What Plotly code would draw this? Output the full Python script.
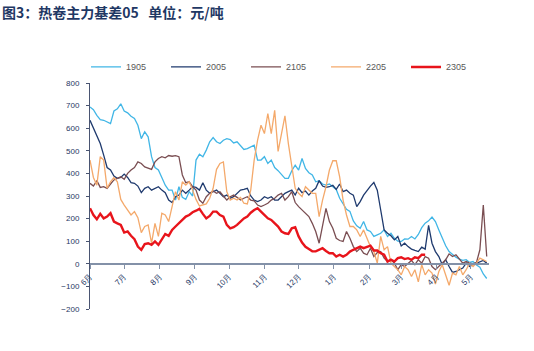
import pandas as pd
import plotly.graph_objects as go

# Basis values (元/吨), sampled every 3 calendar days starting June 1 of each contract year
start_date = "2018-06-01"
step = "3D"

s1905 = [694, 682, 657, 638, 635, 628, 620, 676, 686, 708, 676, 668, 653, 643, 613, 554, 584, 562, 474, 426,
         415, 382, 348, 326, 326, 282, 341, 294, 285, 319, 300, 459, 485, 474, 503, 540, 559, 540, 532, 547,
         554, 550, 535, 540, 521, 506, 510, 518, 525, 459, 459, 474, 444, 459, 426, 412, 397, 378, 378, 412,
         436, 415, 466, 422, 403, 393, 363, 368, 353, 348, 353, 341, 329, 290, 265, 241, 232, 190, 168, 157,
         187, 150, 143, 121, 128, 135, 150, 121, 135, 113, 100, 99, 110, 109, 121, 110, 130, 160, 180, 190,
         207, 187, 150, 113, 80, 54, 40, 29, 21, 15, 18, 6, 10, -5, -15, -45, -65]

s2005 = [635, 603, 569, 532, 481, 426, 415, 388, 378, 382, 397, 382, 359, 356, 344, 315, 334, 341, 326, 334,
         341, 326, 315, 282, 271, 297, 304, 326, 312, 326, 341, 338, 326, 359, 326, 312, 319, 326, 312, 297,
         304, 290, 297, 312, 326, 329, 334, 300, 282, 275, 282, 297, 290, 297, 282, 282, 297, 312, 319, 326,
         304, 334, 315, 322, 304, 322, 334, 368, 344, 338, 341, 347, 329, 353, 319, 326, 312, 304, 253, 275,
         304, 326, 344, 360, 326, 238, 150, 135, 124, 106, 121, 79, 91, 76, 65, 59, 54, 74, 65, 170,
         91, 54, 32, -4, 18, -12, -38, -34, -26, -19, 3, -12, -4, 3, 10, 15, 3]

s2105 = [356, 344, 368, 338, 341, 334, 353, 371, 378, 385, 374, 400, 415, 426, 451, 444, 429, 422, 418, 451,
         466, 474, 469, 479, 476, 479, 474, 393, 359, 363, 341, 326, 282, 268, 297, 312, 322, 312, 319, 300,
         282, 297, 304, 294, 282, 290, 297, 282, 279, 260, 253, 260, 268, 282, 290, 304, 312, 282, 297, 319,
         271, 253, 238, 224, 209, 179, 143, 91, 165, 245, 187, 157, 113, 103, 99, 143, 113, 76, 54, 69,
         47, 40, 69, 32, 50, 54, 25, 10, 18, 3, -26, -4, -12, 3, 15, -4, 18, 3, 32, 25,
         -12, -26, -12, 3, 18, 44, 32, 40, 21, 3, 10, 3, 0, 6, 62, 260, 32]

s2205 = [459, 382, 348, 474, 459, 334, 363, 382, 363, 285, 260, 238, 216, 231, 204, 138, 165, 172, 91, 179,
         121, 224, 216, 187, 260, 319, 282, 363, 348, 363, 326, 285, 256, 260, 265, 290, 334, 418, 444, 451,
         319, 282, 290, 282, 294, 268, 265, 326, 459, 547, 613, 576, 665, 576, 679, 497, 576, 655, 532, 429,
         334, 312, 297, 341, 326, 312, 312, 209, 282, 341, 415, 456, 456, 385, 282, 216, 165, 165, 150, 121,
         150, 113, 76, 54, 3, 121, 62, 76, 3, -12, -26, -49, -12, -26, -56, -26, -80, -4, -49, -26,
         -41, -90, -34, -4, -49, -95, -41, -49, -12, -49, -26, 3, -12, 3, 25, 18, 10]

s2305 = [246, 216, 197, 221, 201, 209, 224, 187, 179, 172, 138, 143, 124, 109, 76, 62, 87, 91, 84, 99,
         84, 106, 132, 124, 150, 165, 179, 191, 209, 216, 228, 235, 243, 221, 201, 212, 231, 231, 216, 209,
         172, 157, 162, 172, 187, 201, 209, 226, 238, 246, 231, 216, 201, 194, 179, 165, 143, 135, 132, 157,
         162, 121, 94, 75, 65, 55, 55, 62, 69, 57, 47, 47, 32, 40, 32, 40, 54, 62, 69, 76,
         69, 75, 80, 59, 59, 47, 40, 10, 18, 10, 25, 29, 21, 25, 18, 29, 25, 40, 40]

series_names = ["1905", "2005", "2105", "2205", "2305"]
series_values = [s1905, s2005, s2105, s2205, s2305]
series_colors = ["#41B6E6", "#1F3A6E", "#7A4E52", "#F4A96B", "#E8141B"]
series_widths = [1.3, 1.3, 1.3, 1.3, 2.4]

month_ticks = pd.date_range("2018-06-01", "2019-05-01", freq="MS")
month_labels = ["6月", "7月", "8月", "9月", "10月", "11月", "12月", "1月", "2月", "3月", "4月", "5月"]

y_ticks = [-200, -100, 0, 100, 200, 300, 400, 500, 600, 700, 800]

fig = go.Figure()
for name, vals, col, w in zip(series_names, series_values, series_colors, series_widths):
    x = pd.date_range(start_date, periods=len(vals), freq=step)
    fig.add_trace(go.Scatter(x=x, y=vals, mode="lines", name=name,
                             line=dict(color=col, width=w)))

fig.update_layout(
    width=534, height=351,
    margin=dict(l=90, r=45, t=83, b=42),
    paper_bgcolor="white", plot_bgcolor="white",
    font=dict(family="Liberation Sans, Arial, sans-serif"),
    showlegend=True,
    legend=dict(orientation="h", x=-0.01, xanchor="left", y=1.071, yanchor="middle",
                font=dict(size=9, color="#595959"),
                entrywidth=35, entrywidthmode="pixels", itemwidth=30,
                bgcolor="rgba(0,0,0,0)"),
    annotations=[dict(text="<b>图3：热卷主力基差05   单位：元/吨</b>", xref="paper", yref="paper",
                      x=-90/399, y=1 + (83-12)/226, xanchor="left", yanchor="middle",
                      showarrow=False,
                      font=dict(size=14, color="#1F3864",
                                family="Noto Sans CJK SC, sans-serif"))],
)

fig.update_xaxes(
    type="date", range=["2018-06-01", "2019-05-17"],
    anchor="free", position=0.2,
    showline=True, linecolor="#8391A8", linewidth=1.5,
    ticks="outside", ticklen=4, tickcolor="#8391A8",
    tickvals=month_ticks, ticktext=month_labels, tickangle=-45,
    tickfont=dict(size=8, color="#1F3864"),
    showgrid=False, zeroline=False,
)
fig.update_yaxes(
    range=[-200, 800], tickvals=y_ticks,
    showline=True, linecolor="#4A5572", linewidth=1,
    ticks="outside", ticklen=3, tickcolor="#4A5572", ticklabelstandoff=5,
    tickfont=dict(size=8, color="#1F3864"),
    showgrid=False, zeroline=False,
)

fig.write_html("out.html")
